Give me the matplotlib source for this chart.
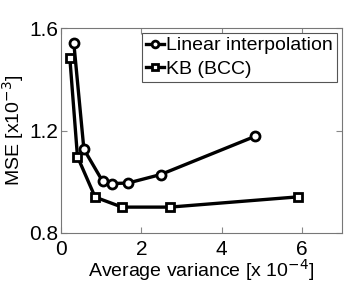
import numpy as np
import matplotlib
matplotlib.use("Agg")
import matplotlib.pyplot as plt

## Data
linear_x = [0.32, 0.57, 1.04, 1.28, 1.67, 2.48, 4.83]
linear_y = [1.54, 1.127, 1.001, 0.993, 0.995, 1.028, 1.177]
kb_x = [0.22, 0.41, 0.85, 1.52, 2.71, 5.90]
kb_y = [1.483, 1.098, 0.940, 0.901, 0.901, 0.941]

x_ticks = [0, 2, 4, 6]
y_ticks = [0.8, 1.2, 1.6]

plt.rcParams['font.family'] = ['Liberation Sans', 'DejaVu Sans']

fig = plt.figure(figsize=(3.46, 2.86), dpi=100)
ax = fig.add_axes([61 / 346, 1 - 233 / 286, 281 / 346, 205 / 286])

ax.plot(linear_x, linear_y, '-o', color='black', lw=2.4, ms=6.5,
        mfc='white', mew=2, label='Linear interpolation')
ax.plot(kb_x, kb_y, '-s', color='black', lw=2.4, ms=6,
        mfc='white', mew=2, label='KB (BCC)')

ax.set_xlim(0, 7)
ax.set_ylim(0.8, 1.6)
ax.set_xticks(x_ticks)
ax.set_yticks(y_ticks)
ax.set_yticklabels(['0.8', '1.2', '1.6'])
ax.tick_params(direction='in', top=True, right=True, labelsize=15,
               length=4, color='#888888', pad=2)
ax.tick_params(axis='x', pad=5)
for s in ax.spines.values():
    s.set_color('#777777')

ax.set_xlabel(r'Average variance [x 10$^{-4}$]', fontsize=14, labelpad=-1)
ax.set_ylabel(r'MSE [x10$^{-3}$]', fontsize=14, labelpad=2)

leg = ax.legend(loc='upper right', fontsize=14, handlelength=0.9,
                handletextpad=0.15, borderpad=0.2, labelspacing=0.3,
                borderaxespad=0.25, fancybox=False, framealpha=1,
                edgecolor='#555555', markerscale=0.75)
leg.get_frame().set_linewidth(0.8)

fig.savefig('out.png', dpi=100)
